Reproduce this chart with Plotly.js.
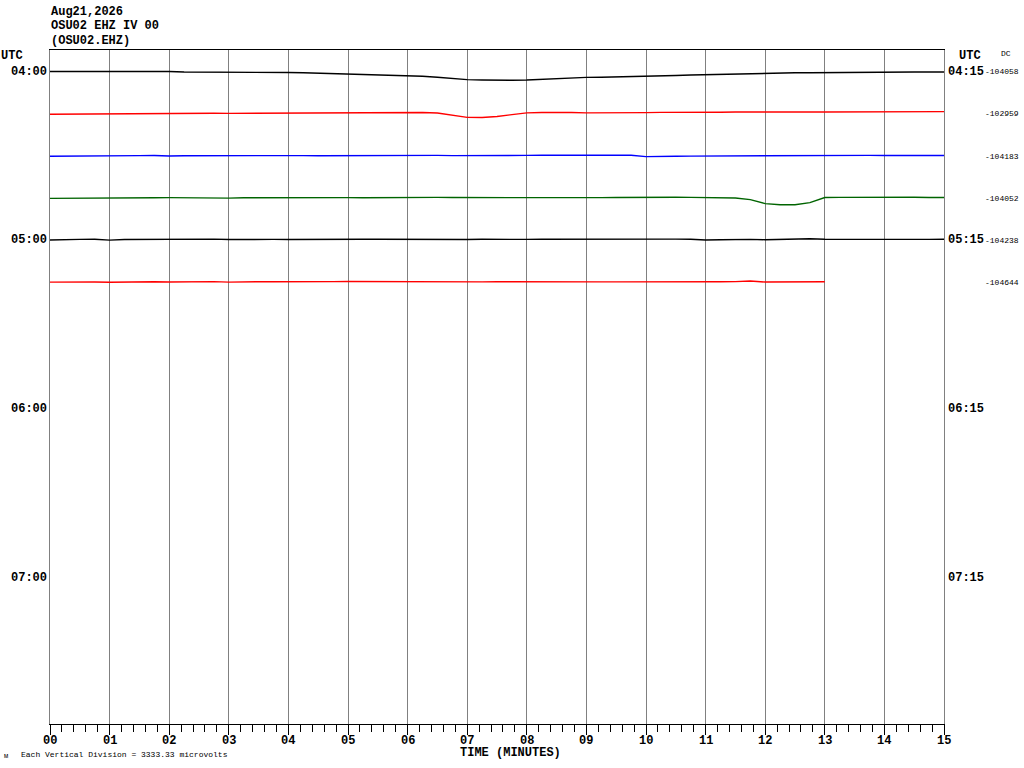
<!DOCTYPE html>
<html>
<head>
<meta charset="utf-8">
<script src="https://cdn.plot.ly/plotly-3.0.1.min.js"></script>
<style>html,body{margin:0;padding:0;background:#fff;}#chart{width:1024px;height:768px;}</style>
</head>
<body>
<div id="chart"></div>
<script>
// ---- data ----
const stationLines = ["Aug21,2026", "OSU02 EHZ IV 00", "(OSU02.EHZ)"];
const uvPerDivision = 3333.33;
const sampleMinutes = 0.25;
const rowColors = ["#000000", "#ff0000", "#0000ff", "#006400", "#000000", "#ff0000"];
const dcLabels = ["-104058", "-102959", "-104183", "-104052", "-104238", "-104644"];
const leftHourLabels = ["04:00", "05:00", "06:00", "07:00"];
const rightHourLabels = ["04:15", "05:15", "06:15", "07:15"];
const minuteTicks = ["00","01","02","03","04","05","06","07","08","09","10","11","12","13","14","15"];

// deflection in microvolts (positive = up), one sample per 0.25 minute
const row0 = [16,16,40,55,55,55,71,55,16,-24,-24,-24,-24,-47,-47,-63,-63,-87,-119,-142,-142,-182,-214,-237,-277,-356,-443,-538,-625,-657,-680,-680,-657,-593,-530,-483,-451,-435,-419,-396,-356,-340,-301,-261,-229,-198,-166,-142,-119,-103,-87,-87,-71,-63,-63,-47,-47,-40,-24,-24,-24];
const row1 = [-32,-24,24,32,16,40,47,47,32,40,47,47,40,47,55,55,47,55,55,63,63,79,95,111,119,111,63,-119,-277,-284,-205,-63,79,103,119,103,79,71,79,79,95,119,111,103,95,126,142,134,126,142,150,142,150,150,158,166,158,158,166,174,174];
const row2 = [-16,0,24,24,24,24,32,40,0,24,32,16,32,47,32,40,24,32,24,32,32,40,32,47,55,40,47,32,24,40,47,40,47,63,71,63,71,63,55,63,-47,-63,-24,-8,0,16,16,8,16,32,40,55,47,40,47,47,40,47,47,40,40];
const row3 = [-16,-16,24,0,-8,-24,16,32,40,24,40,47,0,32,40,47,40,32,47,55,40,32,47,47,40,55,63,47,40,32,47,63,40,24,16,32,24,40,47,63,47,55,71,63,55,16,16,-119,-435,-522,-522,-356,47,63,71,95,79,63,71,55,55];
const row4 = [24,63,71,79,16,63,71,87,40,71,79,95,63,79,87,71,63,79,95,79,71,87,79,71,55,79,87,79,63,79,95,87,71,79,87,79,71,79,95,87,79,87,95,79,24,40,63,71,47,71,111,119,87,79,95,87,71,40,47,71,79];
const row5 = [24,40,47,32,16,47,63,55,32,55,47,63,24,55,63,55,47,55,71,63,79,71,55,47,40,55,47,40,32,47,55,47,40,47,55,47,40,47,47,40,32,47,55,47,47,55,63,111,32,47,40,55,55];
const rows = [row0, row1, row2, row3, row4, row5];

// ---- traces ----
const traces = rows.map((vals, r) => ({
  type: "scatter", mode: "lines",
  x: vals.map((_, i) => i * sampleMinutes),
  y: vals.map(v => r - v / uvPerDivision),
  line: {color: rowColors[r], width: 1.4, shape: "linear"},
  hoverinfo: "skip", showlegend: false
}));

// geometry helpers (plot area 50..944 x 50..724)
const L = 50, R = 944, T = 50, B = 724;
const px = X => (X - L) / (R - L);
const py = Y => (B - Y) / (B - T);

const mono = "Liberation Mono, DejaVu Sans Mono, monospace";
const ann = [];
stationLines.forEach((t, i) => ann.push({
  text: t, xref: "paper", yref: "paper", x: px(49), y: py(12 + i * 14.5),
  xanchor: "left", yanchor: "middle", showarrow: false,
  font: {family: mono, size: 12, color: "#000", weight: "bold"}
}));
ann.push({text: "UTC", xref: "paper", yref: "paper", x: px(-1), y: py(56), xanchor: "left", yanchor: "middle", showarrow: false, font: {family: mono, size: 12, color: "#000", weight: "bold"}});
ann.push({text: "UTC", xref: "paper", yref: "paper", x: px(957), y: py(56), xanchor: "left", yanchor: "middle", showarrow: false, font: {family: mono, size: 12, color: "#000", weight: "bold"}});
ann.push({text: "DC", xref: "paper", yref: "paper", x: px(999), y: py(54), xanchor: "left", yanchor: "middle", showarrow: false, font: {family: mono, size: 8, color: "#000"}});
leftHourLabels.forEach((t, i) => ann.push({
  text: t, xref: "paper", yref: "y", x: px(49), y: i * 4,
  xanchor: "right", yanchor: "middle", showarrow: false,
  font: {family: mono, size: 12, color: "#000", weight: "bold"}
}));
rightHourLabels.forEach((t, i) => ann.push({
  text: t, xref: "paper", yref: "y", x: px(946), y: i * 4,
  xanchor: "left", yanchor: "middle", showarrow: false,
  font: {family: mono, size: 12, color: "#000", weight: "bold"}
}));
dcLabels.forEach((t, i) => ann.push({
  text: t, xref: "paper", yref: "y", x: px(983), y: i,
  xanchor: "left", yanchor: "middle", showarrow: false,
  font: {family: mono, size: 8, color: "#000"}
}));
minuteTicks.forEach((t, i) => ann.push({
  text: t, xref: "x", yref: "paper", x: i, y: py(741),
  xanchor: "center", yanchor: "middle", showarrow: false,
  font: {family: mono, size: 12, color: "#000", weight: "bold"}
}));
ann.push({text: "TIME (MINUTES)", xref: "paper", yref: "paper", x: px(510), y: py(753), xanchor: "center", yanchor: "middle", showarrow: false, font: {family: mono, size: 12, color: "#000", weight: "bold"}});
ann.push({text: "Each Vertical Division = 3333.33 microvolts", xref: "paper", yref: "paper", x: px(19), y: py(754), xanchor: "left", yanchor: "middle", showarrow: false, font: {family: mono, size: 8, color: "#000"}});
ann.push({text: "м", xref: "paper", yref: "paper", x: px(2), y: py(756), xanchor: "left", yanchor: "middle", showarrow: false, font: {family: mono, size: 7, color: "#000"}});

const layout = {
  width: 1024, height: 768,
  margin: {l: L, r: 1024 - R, t: T, b: 768 - B, pad: 0},
  paper_bgcolor: "#fff", plot_bgcolor: "#fff",
  showlegend: false,
  xaxis: {
    range: [0, 15], fixedrange: true,
    showgrid: true, gridcolor: "#808080", gridwidth: 1,
    tickvals: minuteTicks.map((_, i) => i), ticktext: minuteTicks.map(() => ""),
    showticklabels: true,
    ticks: "outside", ticklen: 10, tickwidth: 1, tickcolor: "#000",
    minor: {dtick: 0.2, ticks: "outside", ticklen: 7, tickwidth: 1, tickcolor: "#000", showgrid: false},
    showline: true, linecolor: "#000", linewidth: 1, mirror: true,
    zeroline: false
  },
  yaxis: {
    range: [(B - 71.7) / 42.15, -(71.7 - T) / 42.15], fixedrange: true,
    showgrid: false, zeroline: false, showticklabels: false, ticks: "",
    showline: true, linecolor: "#808080", linewidth: 1, mirror: true
  },
  annotations: ann
};

Plotly.newPlot("chart", traces, layout, {staticPlot: true, displayModeBar: false});
</script>
</body>
</html>
